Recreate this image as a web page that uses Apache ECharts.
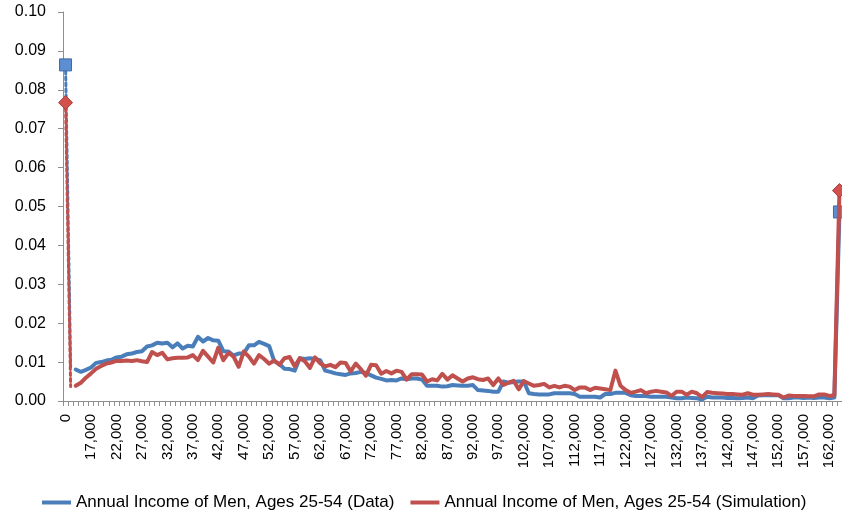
<!DOCTYPE html>
<html>
<head>
<meta charset="utf-8">
<script src="https://cdn.jsdelivr.net/npm/echarts@6.0.0/dist/echarts.min.js"></script>
<style>
  html, body { margin: 0; padding: 0; background: #fff; }
  #chart { width: 842px; height: 514px; }
</style>
</head>
<body>
<div id="chart"></div>
<script>
  // income bins: 0, then 13,000 .. 164,000 in steps of 1,000
  var incomeBins = [0];
  for (var k = 13000; k <= 164000; k += 1000) incomeBins.push(k);
  var binLabels = incomeBins.map(function (v) { return v.toLocaleString('en-US'); });

  var seriesNames = ['Annual Income of Men, Ages 25-54 (Data)', 'Annual Income of Men, Ages 25-54 (Simulation)'];

  // first two bins (dotted segment)
  var dataHead = [0.0864, 0.0088];
  var simHead = [0.0767, 0.0037];

  // bins 2 .. 152 (solid line)
  var dataBody = [
    0.0081, 0.0075, 0.0080, 0.0086, 0.0098, 0.0100, 0.0104, 0.0106, 0.0112, 0.0114,
    0.0120, 0.0122, 0.0126, 0.0128, 0.0140, 0.0143, 0.0150, 0.0148, 0.0150, 0.0138,
    0.0148, 0.0135, 0.0142, 0.0140, 0.0165, 0.0153, 0.0162, 0.0156, 0.0155, 0.0128,
    0.0127, 0.0117, 0.0122, 0.0122, 0.0143, 0.0143, 0.0152, 0.0147, 0.0141, 0.0102,
    0.0095, 0.0083, 0.0082, 0.0078, 0.0110, 0.0108, 0.0110, 0.0108, 0.0105, 0.0078,
    0.0075, 0.0071, 0.0069, 0.0067, 0.0071, 0.0072, 0.0075, 0.0072, 0.0066, 0.0060,
    0.0057, 0.0053, 0.0054, 0.0053, 0.0058, 0.0056, 0.0058, 0.0058, 0.0055, 0.0039,
    0.0039, 0.0039, 0.0037, 0.0038, 0.0041, 0.0040, 0.0039, 0.0039, 0.0041, 0.0028,
    0.0027, 0.0026, 0.0024, 0.0024, 0.0050, 0.0047, 0.0049, 0.0050, 0.0050, 0.0020,
    0.0018, 0.0017, 0.0017, 0.0017, 0.0020, 0.0020, 0.0020, 0.0020, 0.0018, 0.0011,
    0.0011, 0.0011, 0.0011, 0.0009, 0.0018, 0.0018, 0.0021, 0.0021, 0.0021, 0.0015,
    0.0013, 0.0013, 0.0013, 0.0011, 0.0011, 0.0011, 0.0011, 0.0009, 0.0007, 0.0007,
    0.0009, 0.0008, 0.0007, 0.0004, 0.0011, 0.0009, 0.0009, 0.0009, 0.0008, 0.0008,
    0.0007, 0.0008, 0.0009, 0.0007, 0.0014, 0.0015, 0.0015, 0.0015, 0.0015, 0.0007,
    0.0007, 0.0009, 0.0009, 0.0008, 0.0009, 0.0008, 0.0009, 0.0009, 0.0007, 0.0009,
    0.0486
  ];
  var simBody = [
    0.0039, 0.0047, 0.0060, 0.0071, 0.0083, 0.0090, 0.0096, 0.0099, 0.0103, 0.0103,
    0.0104, 0.0103, 0.0105, 0.0102, 0.0100, 0.0126, 0.0118, 0.0124, 0.0107, 0.0110,
    0.0111, 0.0111, 0.0112, 0.0118, 0.0105, 0.0129, 0.0114, 0.0099, 0.0137, 0.0105,
    0.0124, 0.0114, 0.0088, 0.0127, 0.0114, 0.0096, 0.0118, 0.0108, 0.0096, 0.0104,
    0.0093, 0.0110, 0.0113, 0.0089, 0.0110, 0.0102, 0.0085, 0.0112, 0.0097, 0.0089,
    0.0093, 0.0087, 0.0099, 0.0098, 0.0076, 0.0096, 0.0082, 0.0065, 0.0093, 0.0092,
    0.0070, 0.0077, 0.0071, 0.0078, 0.0075, 0.0055, 0.0069, 0.0069, 0.0068, 0.0050,
    0.0056, 0.0053, 0.0070, 0.0055, 0.0066, 0.0058, 0.0050, 0.0058, 0.0061, 0.0056,
    0.0054, 0.0058, 0.0041, 0.0058, 0.0041, 0.0047, 0.0052, 0.0030, 0.0051, 0.0045,
    0.0039, 0.0041, 0.0044, 0.0035, 0.0039, 0.0035, 0.0039, 0.0037, 0.0028, 0.0035,
    0.0035, 0.0028, 0.0034, 0.0032, 0.0030, 0.0028, 0.0078, 0.0039, 0.0028, 0.0021,
    0.0024, 0.0028, 0.0020, 0.0024, 0.0026, 0.0024, 0.0022, 0.0013, 0.0024, 0.0024,
    0.0016, 0.0024, 0.0020, 0.0010, 0.0023, 0.0021, 0.0020, 0.0019, 0.0018, 0.0018,
    0.0017, 0.0016, 0.0020, 0.0016, 0.0016, 0.0017, 0.0018, 0.0017, 0.0016, 0.0009,
    0.0014, 0.0013, 0.0013, 0.0013, 0.0012, 0.0012, 0.0017, 0.0017, 0.0013, 0.0015,
    0.0541
  ];

  var yTicks = [0, 0.01, 0.02, 0.03, 0.04, 0.05, 0.06, 0.07, 0.08, 0.09, 0.10];

  var blue = '#4a7ebb';
  var red = '#c0504d';
  var axisGray = '#8e8e8e';
  var font = 'Liberation Sans';

  var markerBlue = { symbol: 'rect', symbolSize: 12, itemStyle: { color: '#5b8fd2', borderColor: '#3b6aa6', borderWidth: 1 } };
  var markerRed = { symbol: 'diamond', symbolSize: 14, itemStyle: { color: '#d2514d', borderColor: '#a63c39', borderWidth: 1 } };

  // head: only first two bins, marker on bin 0
  function headData(vals, marker) {
    return binLabels.map(function (_, i) {
      if (i === 0) return Object.assign({ value: vals[0] }, marker);
      if (i === 1) return vals[1];
      return null;
    });
  }
  // body: bins 2.., marker on last bin
  function bodyData(vals, marker) {
    var last = binLabels.length - 1;
    return binLabels.map(function (_, i) {
      if (i < 2) return null;
      var v = vals[i - 2];
      if (i === last) return Object.assign({ value: v }, marker);
      return v;
    });
  }

  var chart = echarts.init(document.getElementById('chart'), null, { renderer: 'canvas' });
  chart.setOption({
    animation: false,
    backgroundColor: '#fff',
    textStyle: { fontFamily: font },
    grid: { left: 63, top: 12, width: 780, height: 389, containLabel: false },
    legend: {
      data: seriesNames,
      left: 37,
      top: 489,
      icon: 'rect',
      itemWidth: 29,
      itemHeight: 4,
      itemGap: 16,
      selectedMode: false,
      textStyle: { fontFamily: font, fontSize: 17, color: '#000' }
    },
    xAxis: {
      type: 'category',
      data: binLabels,
      boundaryGap: true,
      axisLine: { show: true, lineStyle: { color: axisGray, width: 1 } },
      axisTick: { show: true, interval: 0, length: 5, lineStyle: { color: axisGray } },
      axisLabel: { interval: 4, rotate: 90, margin: 13, fontSize: 15, color: '#000', fontFamily: font, padding: [5, 0, 0, 0] },
      splitLine: { show: false }
    },
    yAxis: {
      type: 'value',
      min: yTicks[0],
      max: yTicks[yTicks.length - 1],
      interval: 0.01,
      axisLine: { show: true, lineStyle: { color: axisGray, width: 1 } },
      axisTick: { show: true, length: 5, lineStyle: { color: axisGray } },
      axisLabel: {
        margin: 17, fontSize: 16, color: '#000', fontFamily: font,
        formatter: function (v) { return v.toFixed(2); }
      },
      splitLine: { show: false }
    },
    series: [
      {
        name: seriesNames[0], type: 'line', data: headData(dataHead, markerBlue),
        symbol: 'none', showSymbol: true, showAllSymbol: true, connectNulls: false,
        lineStyle: { color: blue, width: 3, type: 'dotted', cap: 'round' },
        itemStyle: { color: blue }, z: 2
      },
      {
        name: seriesNames[1], type: 'line', data: headData(simHead, markerRed),
        symbol: 'none', showSymbol: true, showAllSymbol: true, connectNulls: false,
        lineStyle: { color: red, width: 3, type: 'dotted', cap: 'round' },
        itemStyle: { color: red }, z: 3
      },
      {
        name: seriesNames[0], type: 'line', data: bodyData(dataBody, markerBlue),
        symbol: 'none', showSymbol: true, showAllSymbol: true, connectNulls: false,
        lineStyle: { color: blue, width: 4, join: 'round', cap: 'round' },
        itemStyle: { color: blue }, z: 2
      },
      {
        name: seriesNames[1], type: 'line', data: bodyData(simBody, markerRed),
        symbol: 'none', showSymbol: true, showAllSymbol: true, connectNulls: false,
        lineStyle: { color: red, width: 4, join: 'round', cap: 'round' },
        itemStyle: { color: red }, z: 3
      }
    ]
  });
</script>
</body>
</html>
